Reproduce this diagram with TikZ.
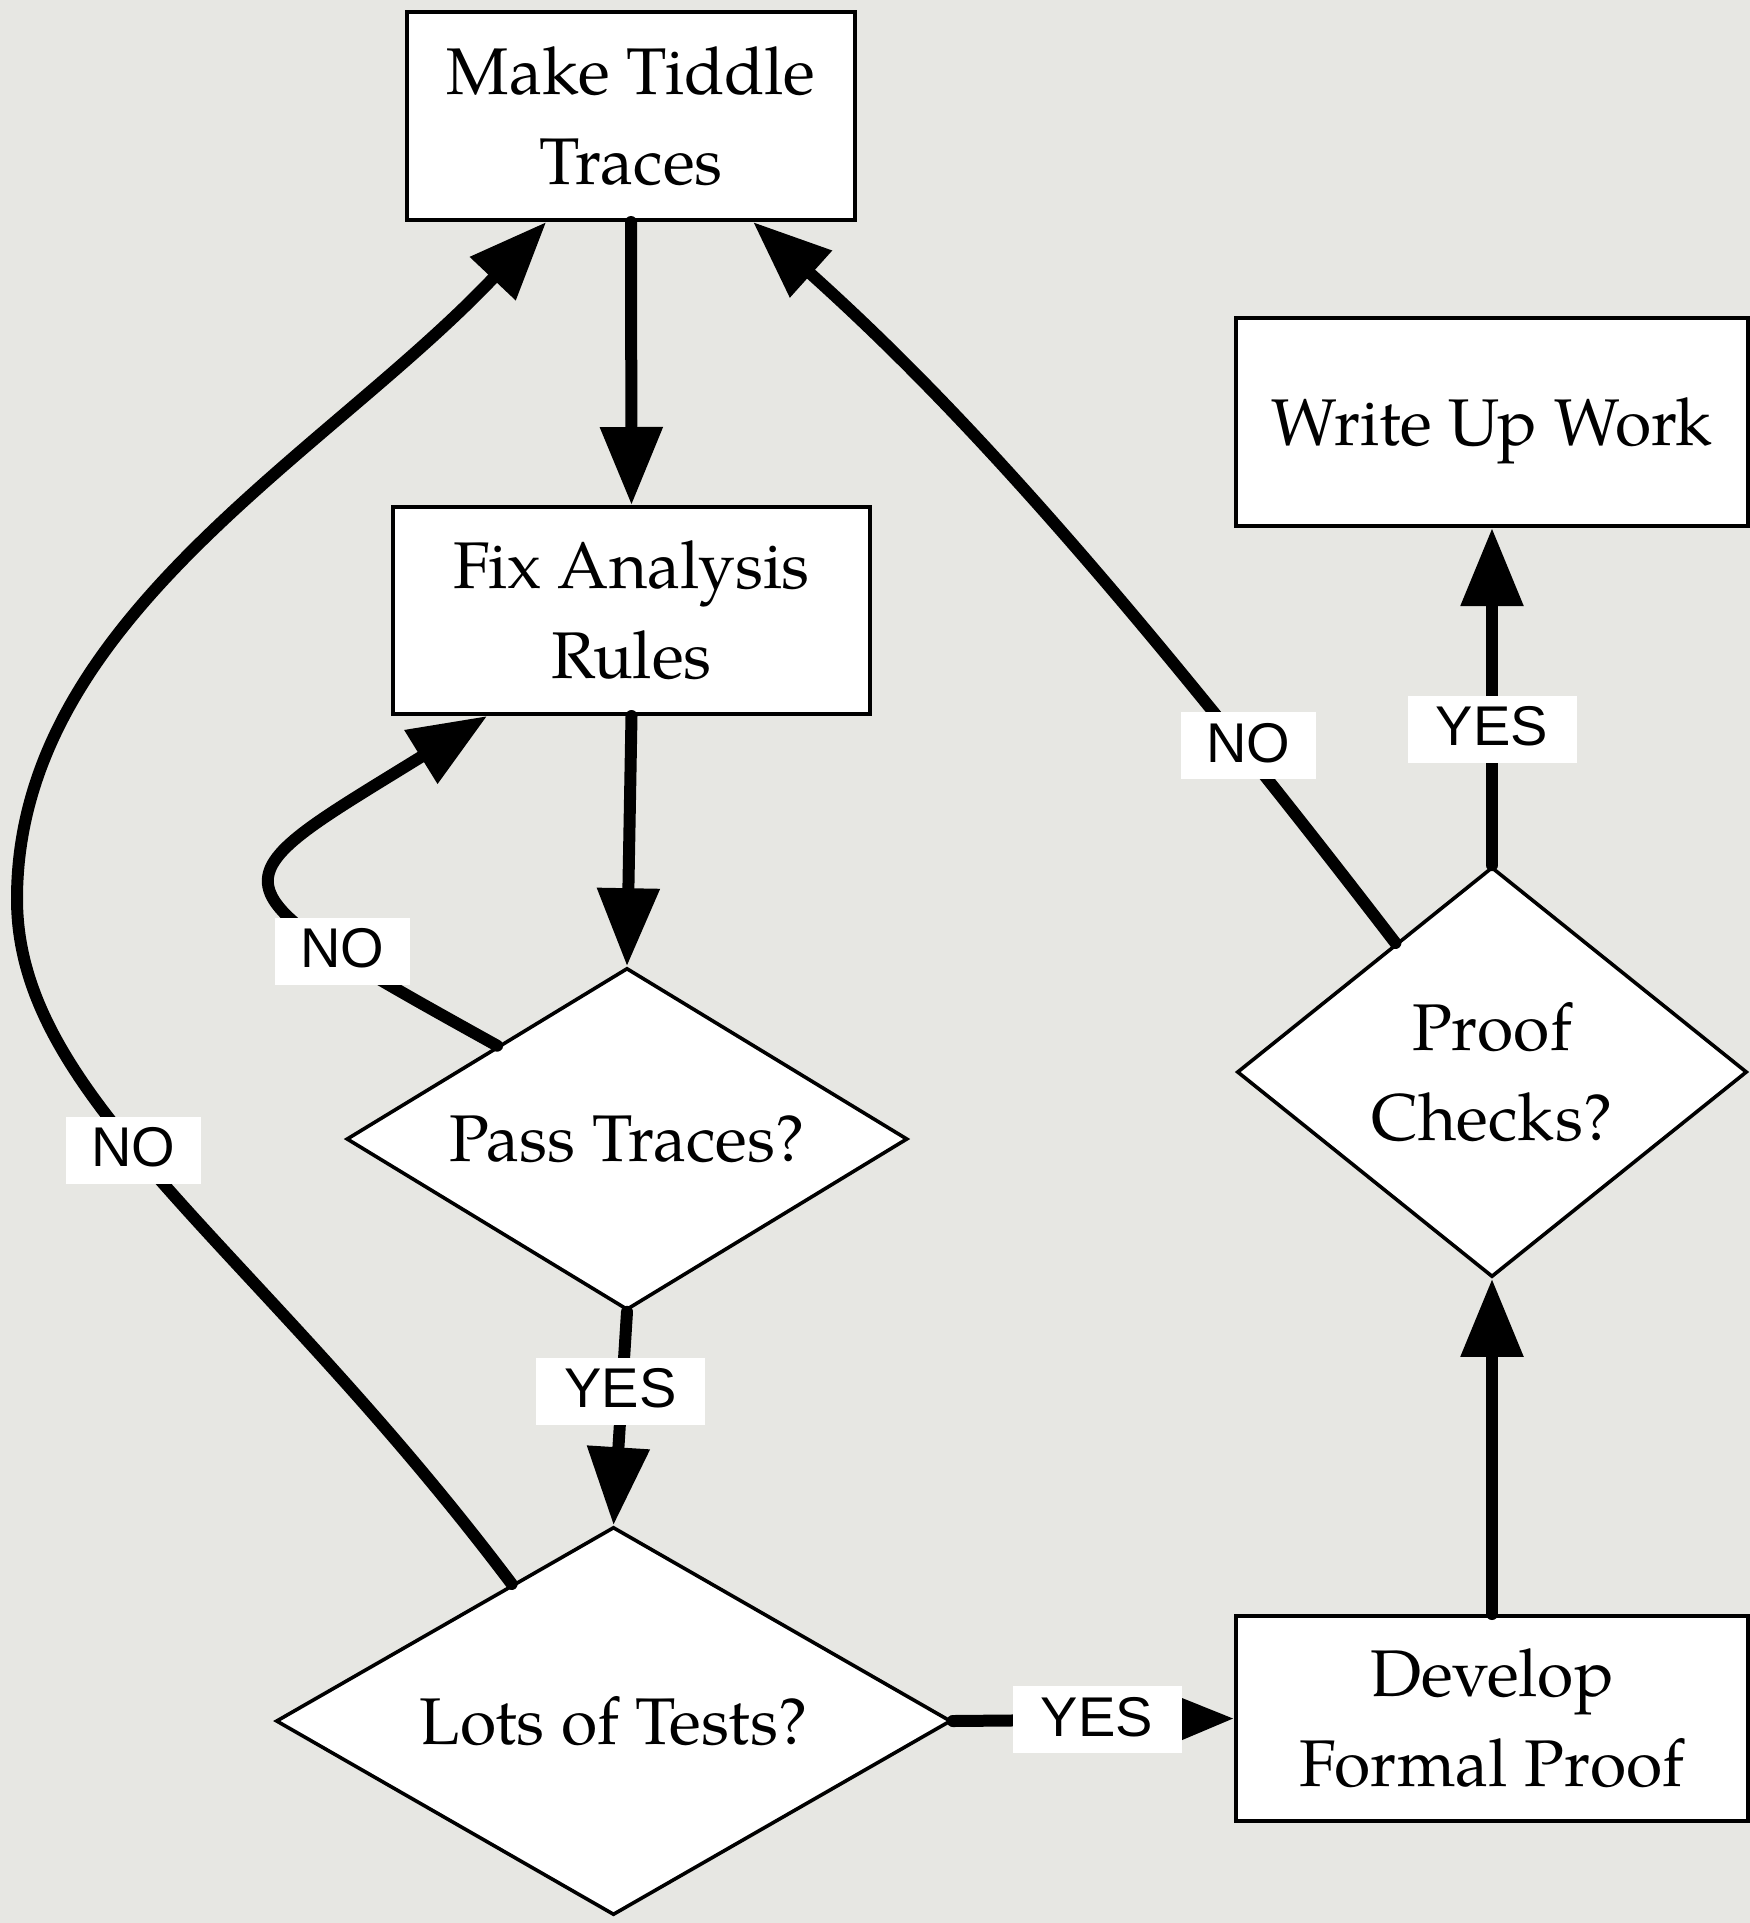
\documentclass[tikz,border=0pt]{standalone}
\usepackage{fontspec}
\setmainfont{texgyrepagella}[Extension=.otf,UprightFont=*-regular,BoldFont=*-bold,ItalicFont=*-italic,BoldItalicFont=*-bolditalic]
\newfontfamily\labelfont{Liberation Sans}
\usetikzlibrary{arrows.meta,shapes.geometric,calc}
\definecolor{paper}{RGB}{231,231,227}

\begin{document}
\begin{tikzpicture}[x=0.5pt,y=-0.5pt,
  stepbox/.style={rectangle, draw=black, line width=2pt, fill=white, inner sep=0pt,
    align=center, font=\fontsize{33}{45}\selectfont},
  decision/.style={diamond, draw=black, line width=1.8pt, fill=white, inner sep=0pt,
    align=center, font=\fontsize{33}{45}\selectfont},
  flow/.style={line width=6pt, line cap=round, -{Triangle[length=39pt,width=30pt]}},
  tag/.style={fill=white, inner sep=0pt, font={\labelfont\fontsize{28}{30}\selectfont},
    minimum height=33.5pt, text height=20pt, text depth=3.5pt},
]
% page
\fill[paper] (0,0) rectangle (1750,1923);
\useasboundingbox (0,0) rectangle (1750,1923);

% process steps
\node[stepbox, minimum width=224pt, minimum height=104pt] (mt) at (631,116) {Make Tiddle\\Traces};
\node[stepbox, minimum width=238.5pt, minimum height=103.5pt] (fa) at (631.5,610.5) {Fix Analysis\\Rules};
\node[stepbox, minimum width=256pt, minimum height=104pt, text depth=0pt] (wu) at (1492,422) {Write Up Work};
\node[stepbox, minimum width=256pt, minimum height=102.5pt] (dp) at (1492,1718.5) {Develop\\Formal Proof};

% decisions
\node[decision, aspect=1.64, minimum width=280.5pt, minimum height=171pt] (pt) at (627,1139) {Pass Traces?};
\node[decision, aspect=1.74, minimum width=337.5pt, minimum height=194pt] (lt) at (613.5,1721) {Lots of Tests?};
\node[decision, aspect=1.24, minimum width=255pt, minimum height=205pt] (pc) at (1492,1072) {Proof\\Checks?};

% straight connectors
\draw[flow] (mt.south) -- (fa.north);
\draw[flow] (fa.south) -- (pt.north);
\draw[flow] (pt.south) -- (lt.north);
\draw[flow] (lt.east) -- (dp.west);
\draw[flow] (dp.north) -- (pc.south);
\draw[flow] (pc.north) -- (wu.south);

% loops back
\coordinate (farleft) at (17,899);
\draw[flow] ($(pt.north)!0.46!(pt.west)$) .. controls (197,879) and (212,886) .. ($(fa.south west)!0.2!(fa.south east)$);
\draw[flow] ($(lt.north)!0.3!(lt.west)$) .. controls (254,1242) and (17,1100) .. (farleft)
  .. controls (17,620) and (326,455) .. ($(mt.south west)!0.3125!(mt.south east)$);
\draw[flow] ($(pc.north)!0.376!(pc.west)$) .. controls (1089,544) and (930,381) .. ($(mt.south west)!0.77!(mt.south east)$);

% answers
\node[tag, minimum width=84.5pt] (yes1) at (620.5,1391) {YES};
\node[tag, minimum width=84.5pt] (yes2) at (1097,1719.5) {YES};
\node[tag, minimum width=84.5pt] (yes3) at (1492,729) {YES};
\node[tag, minimum width=67.5pt] (no1) at (1248.5,745.5) {NO};
\node[tag, minimum width=67.5pt] (no2) at (342,951) {NO};
\node[tag, minimum width=67.5pt] (no3) at (133.5,1150) {NO};
\end{tikzpicture}
\end{document}
